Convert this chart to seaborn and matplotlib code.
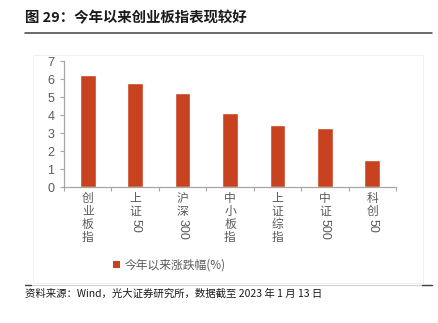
import matplotlib
matplotlib.use("Agg")
import matplotlib.pyplot as plt
import seaborn as sns
import pandas as pd
import re
from matplotlib.lines import Line2D
from matplotlib.patches import Rectangle

categories = ["创业板指", "上证50", "沪深300", "中小板指", "上证综指", "中证500", "科创50"]
values = [6.25, 5.78, 5.25, 4.1, 3.45, 3.3, 1.5]
series_name = "今年以来涨跌幅(%)"
title = "图 29：今年以来创业板指表现较好"
source = "资料来源：Wind，光大证券研究所，数据截至 2023 年 1 月 13 日"

sns.set_theme(style="white")
plt.rcParams['font.family'] = ['Noto Sans CJK SC', 'DejaVu Sans']
LAT = ['Liberation Sans', 'Noto Sans CJK SC']

BAR = "#C8421F"
AX = "#A6A6A6"
TXT = "#595959"

fig = plt.figure(figsize=(4.38, 3.23), dpi=100)
W, H = 438, 323
ax = fig.add_axes([64 / W, 1 - 187 / H, (396 - 64) / W, (187 - 61) / H])

df = pd.DataFrame({"cat": categories, "val": values})
sns.barplot(data=df, x="cat", y="val", color=BAR, saturation=1, width=0.33, ax=ax)

ax.set_ylim(0, 7)
ax.set_xlim(-0.5, len(categories) - 0.5)
ax.set_yticks(range(0, 8))
ax.set_yticklabels([str(v) for v in range(0, 8)], family=LAT)
ax.tick_params(axis='y', labelsize=9, labelcolor=TXT, color=AX, length=3, width=0.8, direction='out', left=True, pad=4)
ax.set_xticks([i + 0.5 for i in range(-1, len(categories))])
ax.set_xticklabels([])
ax.tick_params(axis='x', color=AX, length=3, width=0.8, direction='out', bottom=True)
for s in ['top', 'right']:
    ax.spines[s].set_visible(False)
for s in ['left', 'bottom']:
    ax.spines[s].set_color(AX)
    ax.spines[s].set_linewidth(0.9)
ax.set_xlabel("")
ax.set_ylabel("")

# vertical category labels
def tokens(s):
    return re.findall(r"[0-9A-Za-z]+|.", s)

for i, lab in enumerate(categories):
    y = -4.5
    for tok in tokens(lab):
        if re.match(r"[0-9A-Za-z]+", tok):
            ax.annotate(tok, xy=(i, 0), xycoords=('data', 'axes fraction'),
                        xytext=(0, y - 1), textcoords='offset pixels',
                        rotation=-90, ha='center', va='top', fontsize=9, color=TXT,
                        family=LAT)
            y -= 7.0 * len(tok) + 2
        else:
            ax.annotate(tok, xy=(i, 0), xycoords=('data', 'axes fraction'),
                        xytext=(0, y - 6.6), textcoords='offset pixels',
                        ha='center', va='center', fontsize=8.5, color=TXT)
            y -= 13.3

# legend
handle = Rectangle((0, 0), 1, 1, facecolor=BAR, edgecolor='none')
fig.legend([handle], [series_name], loc='center', bbox_to_anchor=(169 / W, 1 - 265 / H),
           frameon=False, fontsize=8.5, handlelength=0.6, handleheight=0.6,
           handletextpad=0.4, labelcolor=TXT)

# title and rules
fig.text(25 / W, 1 - 18 / H, title, fontsize=10.4, fontweight='bold', color='#1a1a1a',
         ha='left', va='center')
fig.add_artist(Line2D([25 / W, 432 / W], [1 - 33 / H, 1 - 33 / H], color='#404040', lw=1.1))
fig.add_artist(Rectangle((33 / W, 1 - 283 / H), (423 - 33) / W, (283 - 55) / H,
                         fill=False, edgecolor='#EFEFEF', lw=0.7))
fig.add_artist(Line2D([25 / W, 432 / W], [1 - 285 / H, 1 - 285 / H], color='#D0D0D0', lw=0.8))
fig.add_artist(Line2D([25 / W, 31 / W], [1 - 285 / H, 1 - 285 / H], color='#404040', lw=1.0))
fig.add_artist(Line2D([422 / W, 432 / W], [1 - 285 / H, 1 - 285 / H], color='#404040', lw=1.0))
fig.text(25 / W, 1 - 294 / H, source, fontsize=7.5, color='#1a1a1a', ha='left', va='center')

fig.savefig("out.png", dpi=100)
